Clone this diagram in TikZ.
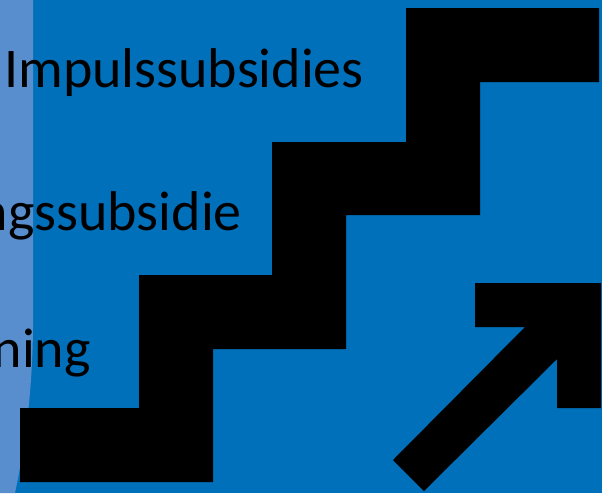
\documentclass[tikz,border=0pt]{standalone}
\usepackage{fontspec}
\setmainfont{Carlito}
\definecolor{mainblue}{RGB}{0,112,186}
\definecolor{lightblue}{RGB}{88,141,206}
\tikzset{
  shape fill/.style={fill=black, draw=none},
  label text/.style={inner sep=0pt, font=\fontsize{56}{60}\selectfont, text=black}
}
\begin{document}
\begin{tikzpicture}[x=1pt, y=-1pt]
\useasboundingbox (0,0) rectangle (602,493);
\fill[mainblue] (0,0) rectangle (602,493);
\fill[lightblue] (0,0) -- (33,0) -- (33,330) .. controls (32,400) and (24,450) .. (15,493) -- (0,493) -- cycle;
% staircase
\fill[shape fill] (20,408) -- (139,408) -- (139,275) -- (272,275) -- (272,142) -- (406,142) -- (406,8) -- (599,8) -- (599,82) -- (480,82) -- (480,215) -- (346,215) -- (346,349) -- (213,349) -- (213,482) -- (20,482) -- cycle;
% arrow
\fill[shape fill] (475,283) -- (601,283) -- (601,408) -- (557,408) -- (557,359) -- (424,491) -- (393,460) -- (525,327) -- (475,327) -- cycle;
% texts
\node[label text, anchor=base west] (t1) at (4,87) {Impulssubsidies};
\node[label text, anchor=base east] (t2) at (242,230) {ngssubsidie};
\node[label text, anchor=base east] (t3) at (91,367) {ning};
\end{tikzpicture}
\end{document}
